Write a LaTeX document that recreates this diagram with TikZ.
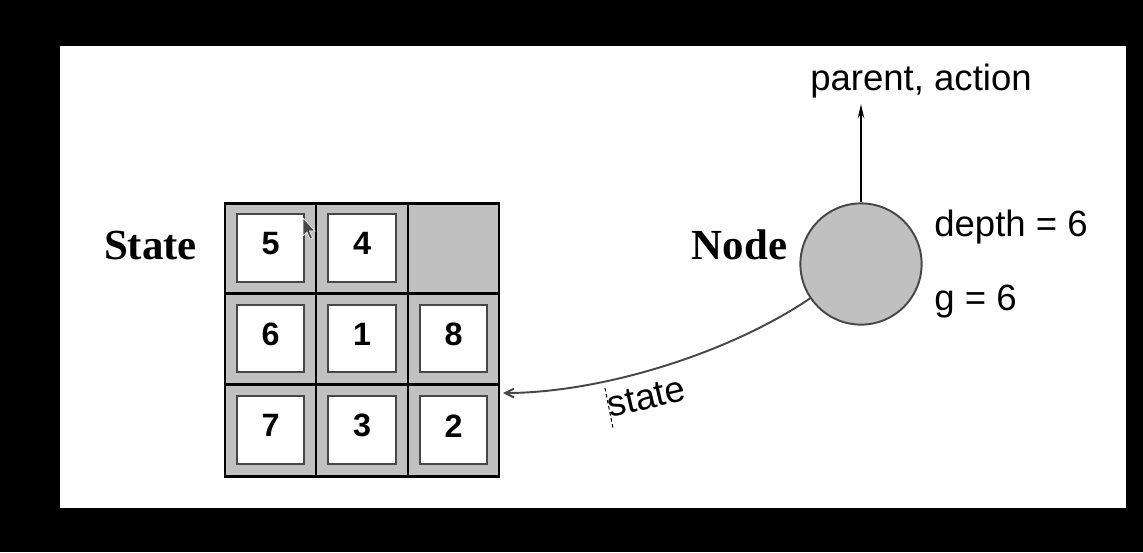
\documentclass[tikz,border=0pt]{standalone}
\usepackage{fontspec}
\setmainfont{Liberation Sans}
\newfontfamily\serifbold{Liberation Serif}[BoldFont={Liberation Serif Bold}]
\usetikzlibrary{arrows.meta}
\definecolor{tilegray}{HTML}{C0C0C0}
\definecolor{edgegray}{HTML}{474747}
\tikzset{
  gridline/.style={line width=1.7pt, black},
  tile/.style={draw=edgegray, line width=1.1pt, fill=white, minimum size=38.5pt, inner sep=0pt},
  digit/.style={inner sep=0pt, font=\fontsize{18.4}{22}\selectfont\bfseries},
  title/.style={inner sep=0pt, anchor=base, font=\serifbold\fontsize{24.4}{28}\selectfont\bfseries},
  label/.style={inner sep=0pt, font=\fontsize{20.8}{25}\selectfont},
  nodecirc/.style={circle, draw=edgegray, line width=1.1pt, fill=tilegray, minimum size=69pt, inner sep=0pt},
  link/.style={line width=1.1pt, edgegray},
}
\begin{document}
\begin{tikzpicture}[x=0.02cm,y=-0.02cm]
\fill[black] (0,0) rectangle (1143,552);
\fill[white] (60,46) rectangle (1126,508);
\useasboundingbox (0,0) rectangle (1143,552);

% puzzle board
\fill[tilegray] (225,203) rectangle (499,476);
\node[tile] (t11) at (270.5,248) {};
\node[tile] (t12) at (362,248) {};
\node[tile] (t21) at (270.5,338.5) {};
\node[tile] (t22) at (362,338.5) {};
\node[tile] (t23) at (453.5,338.5) {};
\node[tile] (t31) at (270.5,430) {};
\node[tile] (t32) at (362,430) {};
\node[tile] (t33) at (453.5,430) {};
\node[digit] (d11) at ([yshift=2.4pt]t11.center) {5};
\node[digit] (d12) at ([yshift=2.4pt]t12.center) {4};
\node[digit] (d21) at ([yshift=2.4pt]t21.center) {6};
\node[digit] (d22) at ([yshift=2.4pt]t22.center) {1};
\node[digit] (d23) at ([yshift=2.4pt]t23.center) {8};
\node[digit] (d31) at ([yshift=2.4pt]t31.center) {7};
\node[digit] (d32) at ([yshift=2.4pt]t32.center) {3};
\node[digit] (d33) at ([yshift=2.4pt]t33.center) {2};
\draw[gridline] (225,203) rectangle (499,476);
\draw[gridline] (316,203) -- (316,476);
\draw[gridline] (408,203) -- (408,476);
\draw[gridline] (225,293) -- (499,293);
\draw[gridline] (225,384) -- (499,384);

% mouse pointer
\filldraw[fill=edgegray, draw=white, line width=0.3pt]
  (303,218) -- (303,236) -- (307,232) -- (310,239) -- (312.5,238) -- (309.5,231) -- (315,231) -- cycle;

\node[title] (statelbl) at (150.5,259) {State};
\node[title] (nodelbl) at (739.5,259) {Node};

% search node
\node[nodecirc] (nd) at (861,264) {};
\coordinate (pa) at (861,104);
\coordinate (stend) at (503,393);
\draw[line width=1.5pt, black, -{Stealth[length=8pt,width=3.6pt,inset=2.5pt]}] (nd.north) -- (pa);
\node[label, anchor=base] (palbl) at (921,90) {parent, action};
\node[label, anchor=base west] (dlbl) at (934,236) {depth = 6};
\node[label, anchor=base west] (glbl) at (934,310) {g = 6};

\draw[link, -{Straight Barb[length=5pt,width=5pt]}] (nd.214) .. controls (728,354) and (600,393) .. (stend);
\coordinate (tk1) at (605,388);
\coordinate (tk2) at (613,428);
\draw[black, line width=0.6pt, dash pattern=on 2pt off 1.5pt] (tk1) -- (tk2);
\node[label, anchor=base west, rotate=13] (stlbl) at (610,418) {state};
\end{tikzpicture}
\end{document}
